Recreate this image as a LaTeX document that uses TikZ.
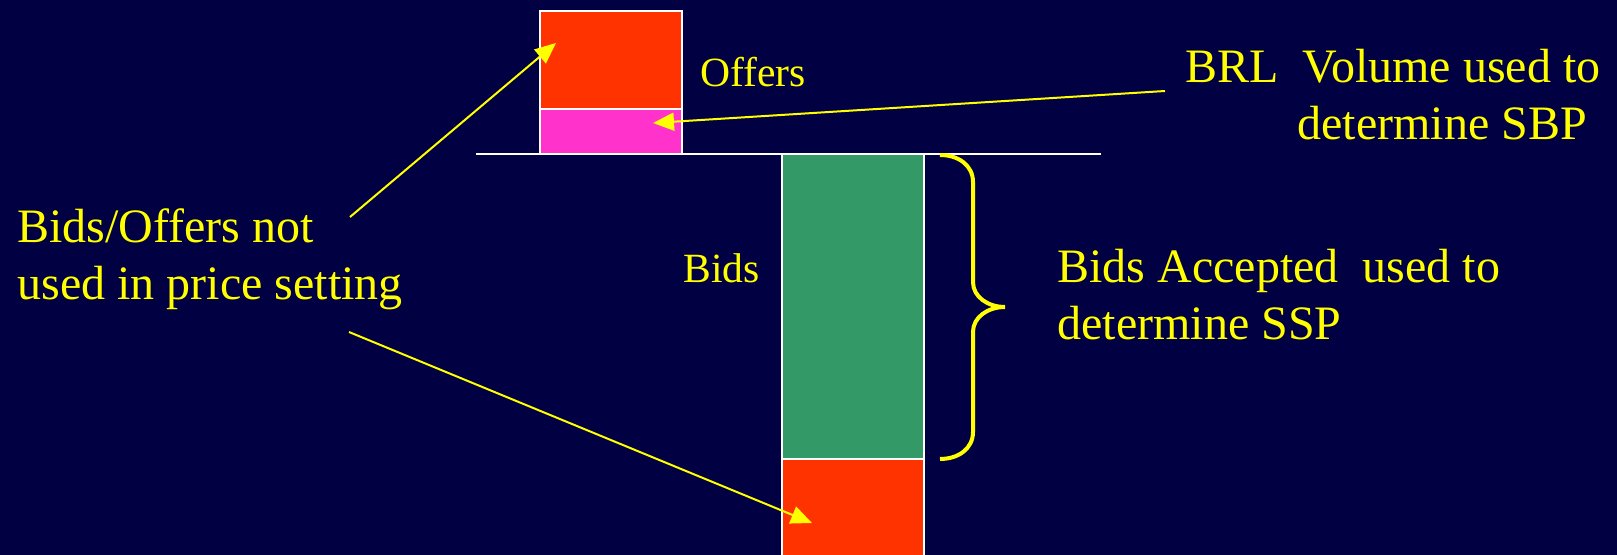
\documentclass[tikz,border=0pt]{standalone}
\usepackage{fontspec}
\setmainfont{Liberation Serif}
\usetikzlibrary{arrows.meta}
\definecolor{bg}{RGB}{0,0,66}
\definecolor{offred}{RGB}{255,51,0}
\definecolor{brlpink}{RGB}{255,51,204}
\definecolor{bidgreen}{RGB}{51,153,102}
\definecolor{txtyellow}{RGB}{255,255,0}
\begin{document}
\begin{tikzpicture}[x=0.5pt,y=-0.5pt,
  bar/.style={draw=white,line width=0.75pt,inner sep=0,outer sep=0,anchor=north west,minimum width=71pt},
  lbl/.style={text=txtyellow,inner sep=0,anchor=base west,align=left},
  big/.style={lbl,font=\fontsize{24}{28.5}\selectfont},
  small/.style={lbl,font=\fontsize{20.8}{24}\selectfont},
  ptr/.style={draw=txtyellow,line width=1pt,-{Triangle[length=10.5pt,width=9pt]}},
  bracestyle/.style={draw=txtyellow,line width=2pt}]
\fill[bg] (0,0) rectangle (1617,555);
\useasboundingbox (0,0) rectangle (1617,555);
% axis line
\coordinate (axisL) at (476,154);
\coordinate (axisR) at (1101,154);
\draw[white,line width=0.75pt] (axisL) -- (axisR);
% bars
\node[bar,fill=offred,minimum height=49pt] (offer) at (540,11) {};
\node[bar,fill=brlpink,minimum height=22.5pt] (brl) at (540,109) {};
\node[bar,fill=bidgreen,minimum height=152.5pt] (acc) at (782,154) {};
\node[bar,fill=offred,minimum height=50pt] (unbid) at (782,459) {};
% labels
\node[small] (offers) at (700,87) {Offers};
\node[small] (bids) at (683,283) {Bids};
\node[big] (brltxt) at (1185,140) {BRL\ \ Volume used to\\\hspace*{56pt}determine SBP};
\node[big] (acctxt) at (1057,340) {Bids Accepted\ \ used to\\determine SSP};
\node[big] (notused) at (17,300) {Bids/Offers not\\used in price setting};
% pointers
\coordinate (s1) at (350,217);
\coordinate (t1) at (556,43);
\coordinate (s2) at (1165,91);
\coordinate (t2) at (653,123);
\coordinate (s3) at (349,332);
\coordinate (t3) at (812,523);
\draw[ptr] (s1) -- (t1);
\draw[ptr] (s2) -- (t2);
\draw[ptr] (s3) -- (t3);
% brace
\draw[bracestyle] (940,155) .. controls (958,155) and (973,165) .. (973,182) -- (973,282)
  .. controls (973,297) and (988,307) .. (1005,307)
  .. controls (988,307) and (973,317) .. (973,332) -- (973,432)
  .. controls (973,449) and (958,459) .. (940,459);
\end{tikzpicture}
\end{document}
